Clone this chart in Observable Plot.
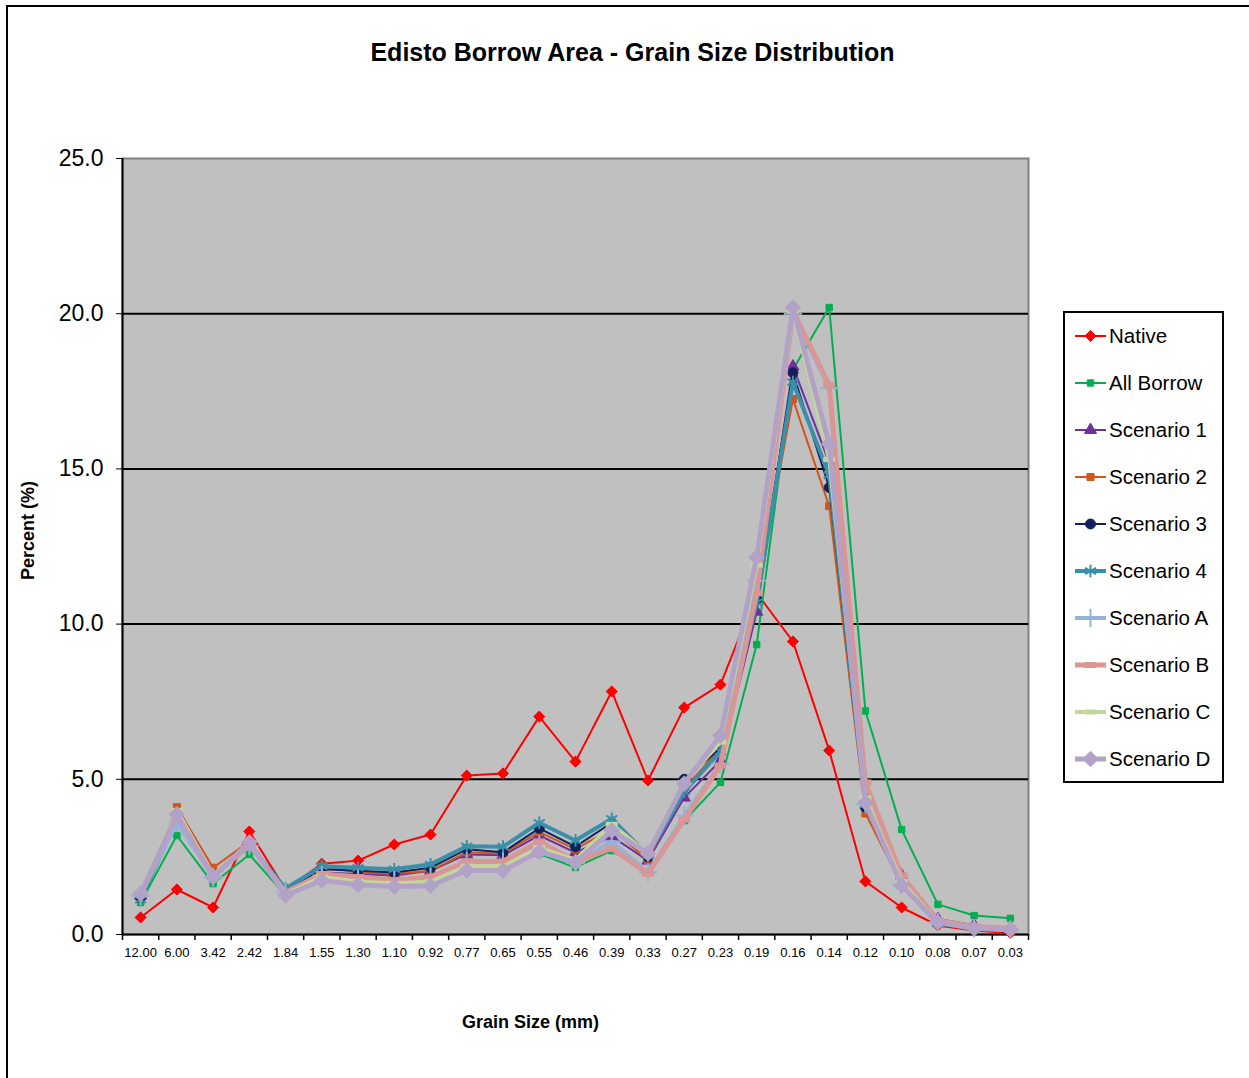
<!DOCTYPE html>
<html><head><meta charset="utf-8">
<script src="https://cdn.jsdelivr.net/npm/d3@7"></script>
<script src="https://cdn.jsdelivr.net/npm/@observablehq/plot@0.6"></script>
<style>
body{margin:0;width:1249px;height:1078px;overflow:hidden;background:#fff;font-family:"Liberation Sans",Arial,sans-serif;position:relative}
#chart{position:absolute;left:0;top:0}
#border{position:absolute;left:6px;top:5px;width:1400px;height:1200px;border-top:2px solid #000;border-left:2px solid #000;pointer-events:none}
#legend{position:absolute;left:1063px;top:311px;width:157px;height:468px;border:2px solid #000;background:#fff}
.item{position:absolute;left:0;height:24px;display:flex;align-items:center;font-size:20.5px;color:#000;white-space:nowrap}
.item svg{display:block;margin-left:9px;margin-right:2px}
</style></head>
<body>
<div id="chart"></div>
<div id="legend"></div>
<div id="border"></div>
<script>
const categories = ["12.00","6.00","3.42","2.42","1.84","1.55","1.30","1.10","0.92","0.77","0.65","0.55","0.46","0.39","0.33","0.27","0.23","0.19","0.16","0.14","0.12","0.10","0.08","0.07","0.03"];
const seriesNames = ["Native","All Borrow","Scenario 1","Scenario 2","Scenario 3","Scenario 4","Scenario A","Scenario B","Scenario C","Scenario D"];
const native    = [0.55,1.45,0.87,3.32,1.45,2.28,2.38,2.90,3.22,5.12,5.19,7.02,5.57,7.83,4.96,7.31,8.05,11.0,9.44,5.93,1.71,0.87,0.29,0.13,0.05];
const allBorrow = [1.03,3.19,1.64,2.58,1.26,1.85,1.72,1.62,1.70,2.15,2.15,2.60,2.16,2.70,2.00,3.67,4.90,9.34,18.2,20.2,7.20,3.38,0.97,0.61,0.52];
const scenario1 = [1.25,3.80,1.90,2.95,1.40,2.00,1.95,1.90,2.05,2.58,2.55,3.19,2.64,3.16,2.38,4.41,5.60,10.4,18.3,15.2,4.40,1.90,0.50,0.30,0.20];
const scenario2 = [1.30,4.10,2.15,3.00,1.40,2.20,2.00,1.95,2.05,2.65,2.60,3.30,2.75,3.40,2.40,4.70,6.00,10.9,17.25,13.8,3.90,1.60,0.35,0.20,0.10];
const scenario3 = [1.20,3.75,1.90,2.95,1.45,2.10,2.05,2.00,2.15,2.75,2.65,3.42,2.83,3.60,2.50,5.00,6.00,10.8,18.1,14.4,4.10,1.70,0.40,0.20,0.15];
const scenario4 = [1.12,3.70,1.90,2.90,1.48,2.20,2.15,2.10,2.26,2.84,2.83,3.60,3.03,3.73,2.55,4.60,5.90,10.7,17.8,14.8,4.20,1.60,0.35,0.20,0.15];
const scenarioA = [1.25,3.60,1.85,2.85,1.35,1.90,1.80,1.75,1.85,2.35,2.35,2.90,2.30,3.00,2.00,3.83,5.50,11.4,20.0,17.6,4.20,1.60,0.40,0.20,0.15];
const scenarioB = [1.30,3.85,1.90,2.90,1.35,1.95,1.85,1.75,1.85,2.35,2.35,3.00,2.35,2.77,1.96,3.70,5.44,11.0,20.1,17.7,4.90,1.90,0.45,0.25,0.20];
const scenarioC = [1.35,4.00,1.90,2.95,1.30,1.85,1.70,1.65,1.70,2.20,2.20,2.80,2.40,3.55,2.60,4.90,6.20,11.9,20.1,15.3,4.40,1.70,0.40,0.20,0.15];
const scenarioD = [1.32,3.87,1.85,2.97,1.26,1.74,1.60,1.55,1.57,2.06,2.06,2.67,2.32,3.35,2.61,4.86,6.41,12.15,20.2,15.8,4.25,1.58,0.39,0.19,0.16];
const yTicks = [0,5,10,15,20,25];

const values = [native,allBorrow,scenario1,scenario2,scenario3,scenario4,scenarioA,scenarioB,scenarioC,scenarioD];

const dash = {draw(ctx, size){const r=Math.sqrt(size/Math.PI); ctx.moveTo(-r,0); ctx.lineTo(r,0);}};
const styles = [
  {color:"#FF0000", width:2, symbol:"diamond2", r:5, fill:true},
  {color:"#00B050", width:2, symbol:"square", r:3.6, fill:true},
  {color:"#7030A0", width:2, symbol:"triangle", r:4.5, fill:true},
  {color:"#D0561A", width:2, symbol:"square", r:4, fill:true},
  {color:"#13215C", width:2, symbol:"circle", r:5, fill:true},
  {color:"#3A90A9", width:4, symbol:"asterisk", r:6, fill:false, sw:2},
  {color:"#95B3D7", width:4, symbol:"plus", r:6, fill:false, sw:2},
  {color:"#D99694", width:5, symbol:dash, r:6, fill:false, sw:6},
  {color:"#C3D69B", width:4, symbol:dash, r:6, fill:false, sw:5},
  {color:"#B3A2C7", width:5, symbol:"diamond2", r:7, fill:true}
];

const rows = [];
seriesNames.forEach((s,si)=>categories.forEach((c,ci)=>rows.push({series:s, cat:c, value:values[si][ci]})));

const step = 906/25;
const marks = [
  Plot.frame({fill:"#C0C0C0", stroke:"#808080", strokeWidth:2}),
  Plot.ruleY([5,10,15,20], {stroke:"#000", strokeWidth:2}),
  Plot.ruleX(categories, {x:d=>d, dx:-step/2, y1:0, y2:0, insetBottom:-6, stroke:"#000", strokeWidth:1.5}),
  Plot.ruleX([categories[categories.length-1]], {x:d=>d, dx:step/2, y1:0, y2:0, insetBottom:-6, stroke:"#000", strokeWidth:1.5}),
  Plot.ruleX([categories[0]], {x:d=>d, dx:-step/2, y1:0, y2:25, stroke:"#000", strokeWidth:2}),
  Plot.ruleY([0], {stroke:"#000", strokeWidth:2}),
  Plot.axisX({tickSize:0, tickPadding:13, fontSize:13, label:null}),
  Plot.axisY({ticks:yTicks, tickFormat:d3.format(".1f"), tickSize:6, tickPadding:13, fontSize:23, label:null}),
  Plot.text(["Edisto Borrow Area - Grain Size Distribution"], {text:d=>d, frameAnchor:"top", textAnchor:"middle", dx:57, dy:-115, fontSize:25, fontWeight:"bold", fill:"#000"}),
  Plot.text(["Percent (%)"], {text:d=>d, frameAnchor:"left", textAnchor:"middle", dx:-94, dy:-16, rotate:-90, fontSize:18, fontWeight:"bold", fill:"#000"}),
  Plot.text(["Grain Size (mm)"], {text:d=>d, frameAnchor:"bottom", textAnchor:"middle", dx:-45, dy:93, fontSize:18, fontWeight:"bold", fill:"#000"})
];
seriesNames.forEach((s,si)=>{
  const st = styles[si];
  const data = rows.filter(r=>r.series===s);
  marks.push(Plot.line(data, {x:"cat", y:"value", stroke:st.color, strokeWidth:st.width, curve:"linear"}));
  marks.push(Plot.dot(data, {x:"cat", y:"value", symbol:()=>st.symbol, r:st.r,
    fill: st.fill ? st.color : "none", stroke: st.color, strokeWidth: st.sw || 1}));
});

const chart = Plot.plot({
  width:1249, height:1078,
  marginTop:158, marginLeft:122, marginRight:221, marginBottom:144,
  style:{background:"transparent", fontFamily:"Liberation Sans, Arial, sans-serif", color:"#000", overflow:"visible"},
  x:{type:"point", domain:categories, padding:0.5, round:false},
  y:{domain:[0,25]},
  symbol:{type:"identity"},
  marks
});
document.getElementById("chart").appendChild(chart);

// legend
const legend = document.getElementById("legend");
seriesNames.forEach((s,si)=>{
  const st = styles[si];
  const cy = 336 + 47*si - 313;
  const div = document.createElement("div");
  div.className = "item";
  div.style.top = (cy-12)+"px";
  const svgNS = "http://www.w3.org/2000/svg";
  const svg = document.createElementNS(svgNS,"svg");
  svg.setAttribute("width","33"); svg.setAttribute("height","24");
  const line = document.createElementNS(svgNS,"line");
  line.setAttribute("x1","1"); line.setAttribute("x2","32"); line.setAttribute("y1","12"); line.setAttribute("y2","12");
  line.setAttribute("stroke", st.color); line.setAttribute("stroke-width", st.width);
  svg.appendChild(line);
  const p = document.createElementNS(svgNS,"path");
  const symObj = typeof st.symbol === "string" ? ({diamond2:d3.symbolDiamond2, square:d3.symbolSquare, triangle:d3.symbolTriangle, circle:d3.symbolCircle, asterisk:d3.symbolAsterisk, plus:d3.symbolPlus})[st.symbol] : st.symbol;
  p.setAttribute("d", d3.symbol(symObj, Math.PI*st.r*st.r)());
  p.setAttribute("transform","translate(16.5,12)");
  p.setAttribute("fill", st.fill ? st.color : "none");
  p.setAttribute("stroke", st.color);
  p.setAttribute("stroke-width", st.sw || 1);
  svg.appendChild(p);
  div.appendChild(svg);
  const t = document.createElement("span");
  t.textContent = s;
  div.appendChild(t);
  legend.appendChild(div);
});
</script>
</body></html>
